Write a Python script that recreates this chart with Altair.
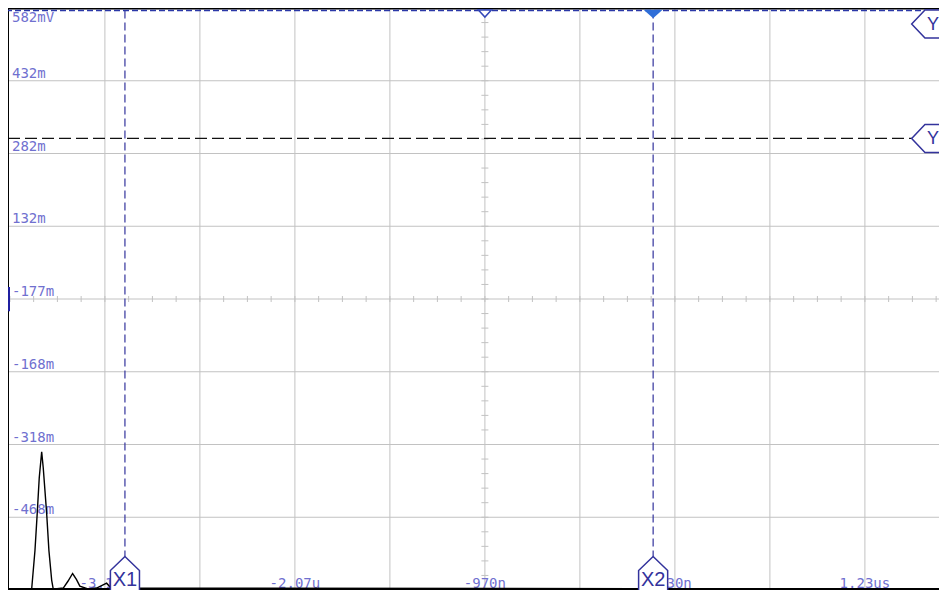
import altair as alt
import pandas as pd

# ---------------- data (time in ns, voltage in mV) ----------------
wave_t = [-3731, -3594, -3575, -3562, -3550, -3536, -3527, -3507, -3494, -3478, -3469,
          -3459, -3411, -3384, -3357, -3335, -3315, -3268, -3218, -3160, -3135, 1659]
wave_v = [-616, -616, -537, -461, -386, -333, -366, -461, -537, -598, -616,
          -616, -614, -600, -584, -596, -610, -616, -614, -604, -614, -616]

grid_t = [-3170, -2620, -2070, -1520, -970, -420, 130, 680, 1230]
grid_v = [432, 282, 132, -18, -168, -318, -468]

ylab_v = [432, 282, 132, -18, -168, -318, -468]
ylab_text = ["432m", "282m", "132m", "-177m", "-168m", "-318m", "-468m"]
top_lab_v = [582]
top_lab_text = ["582mV"]

xlab_t = [-3170, -2070, -970, 130, 1230]
xlab_text = ["-3.17u", "-2.07u", "-970n", "130n", "1.23us"]

xcur_t = [-3054, 4]
xcur_name = ["X1", "X2"]
ycur_top_v = 577
ycur2_v = 313
trig_t = -970

T_MIN, T_MAX = -3731, 1659
V_MIN, V_MAX = -618, 582
DIV_T, DIV_V = 550, 150
CENTER_T, CENTER_V = -970, -18

W, H = 931, 582
PX_T = (T_MAX - T_MIN) / W   # ns per pixel
PX_V = (V_MAX - V_MIN) / H   # mV per pixel

LAB_COLOR = "#7070cf"
CUR_COLOR = "#33339c"
GRID_COLOR = "#c2c2c2"
FONT = "DejaVu Sans Mono"

xs = alt.Scale(domain=[T_MIN, T_MAX], nice=False, zero=False)
ys = alt.Scale(domain=[V_MIN, V_MAX], nice=False, zero=False)


def X(f):
    return alt.X(f, type="quantitative", scale=xs, axis=None)


def Y(f):
    return alt.Y(f, type="quantitative", scale=ys, axis=None)


# ---------------- grid ----------------
gx = alt.Chart(pd.DataFrame({"t": grid_t})).mark_rule(color=GRID_COLOR, strokeWidth=1).encode(x=X("t"))
gy = alt.Chart(pd.DataFrame({"v": grid_v})).mark_rule(color=GRID_COLOR, strokeWidth=1).encode(y=Y("v"))

# minor ticks on centre axes
qt = DIV_T / 4
ht = [T_MIN + (CENTER_T - T_MIN) % qt + k * qt for k in range(int((T_MAX - T_MIN) / qt) + 1)]
ht = [t for t in ht if t <= T_MAX]
tick_h = pd.DataFrame({"t": ht, "v1": CENTER_V - 3 * PX_V, "v2": CENTER_V + 3 * PX_V})
th = alt.Chart(tick_h).mark_rule(color=GRID_COLOR, strokeWidth=1).encode(x=X("t"), y=Y("v1"), y2=alt.Y2("v2"))

fv = DIV_V / 5
vt = [V_MIN + k * fv for k in range(int((V_MAX - V_MIN) / fv) + 1)]
tick_v = pd.DataFrame({"v": vt, "t1": CENTER_T - 3.5 * PX_T, "t2": CENTER_T + 3.5 * PX_T})
tv = alt.Chart(tick_v).mark_rule(color=GRID_COLOR, strokeWidth=1).encode(y=Y("v"), x=X("t1"), x2=alt.X2("t2"))

# ---------------- labels ----------------
ylab_df = pd.DataFrame({"v": ylab_v, "label": ylab_text, "t": T_MIN})
yl = alt.Chart(ylab_df).mark_text(align="left", baseline="alphabetic", dx=4, dy=-3,
                                   font=FONT, fontSize=14, color=LAB_COLOR).encode(
    x=X("t"), y=Y("v"), text="label:N")
top_df = pd.DataFrame({"v": top_lab_v, "label": top_lab_text, "t": T_MIN})
tl = alt.Chart(top_df).mark_text(align="left", baseline="top", dx=4, dy=3,
                                 font=FONT, fontSize=14, color=LAB_COLOR).encode(
    x=X("t"), y=Y("v"), text="label:N")
xlab_df = pd.DataFrame({"t": xlab_t, "label": xlab_text, "v": V_MIN})
xl = alt.Chart(xlab_df).mark_text(align="center", baseline="alphabetic", dy=-2,
                                  font=FONT, fontSize=14, color=LAB_COLOR).encode(
    x=X("t"), y=Y("v"), text="label:N")

# ---------------- cursors ----------------
xm_v = V_MIN + 16 * PX_V          # centre of the X cursor flags
xapex_v = xm_v + 17.5 * PX_V
xcur_df = pd.DataFrame({"t": xcur_t, "name": xcur_name, "v1": ycur_top_v, "v2": xapex_v, "vm": xm_v})
xc = alt.Chart(xcur_df).mark_rule(color=CUR_COLOR, strokeWidth=1.2, strokeDash=[8, 4]).encode(
    x=X("t"), y=Y("v1"), y2=alt.Y2("v2"))

yflag_t = T_MAX - 2 * PX_T
y2_df = pd.DataFrame({"v": [ycur2_v], "t1": [T_MIN], "t2": [yflag_t - 25 * PX_T]})
yc2 = alt.Chart(y2_df).mark_rule(color="#111111", strokeWidth=1.2, strokeDash=[12, 5]).encode(
    y=Y("v"), x=X("t1"), x2=alt.X2("t2"))

y1_df = pd.DataFrame({"v": [ycur_top_v]})
yc1 = alt.Chart(y1_df).mark_rule(color="#2b38a8", strokeWidth=1.5, strokeDash=[6, 3]).encode(y=Y("v"))

# frame
frame_top = alt.Chart(pd.DataFrame({"v": [V_MAX]})).mark_rule(color="#000000", strokeWidth=3).encode(y=Y("v"))
frame_bot = alt.Chart(pd.DataFrame({"v": [V_MIN]})).mark_rule(color="#000000", strokeWidth=4).encode(y=Y("v"))
frame_left = alt.Chart(pd.DataFrame({"t": [T_MIN]})).mark_rule(color="#000000", strokeWidth=2).encode(x=X("t"))

gnd = alt.Chart(pd.DataFrame({"t": [T_MIN], "v1": [7], "v2": [-43]})).mark_rule(
    color="#1f1fa0", strokeWidth=4).encode(x=X("t"), y=Y("v1"), y2=alt.Y2("v2"))

# ---------------- waveform ----------------
wave = alt.Chart(pd.DataFrame({"t": wave_t, "v": wave_v})).mark_line(
    color="#000000", strokeWidth=1.4).encode(x=X("t"), y=Y("v"), order="t:Q")

# ---------------- markers ----------------
xm = alt.Chart(xcur_df).mark_point(
    shape="M0,-1L0.83,-0.2L0.83,1.2L-0.83,1.2L-0.83,-0.2Z", size=1225,
    filled=False, fill="#ffffff", fillOpacity=1, stroke=CUR_COLOR, strokeWidth=1.5, opacity=1).encode(
    x=X("t"), y=Y("vm"))
xmt = alt.Chart(xcur_df).mark_text(font="Liberation Sans", fontSize=20, color=CUR_COLOR,
                                   baseline="middle", dy=6).encode(x=X("t"), y=Y("vm"), text="name:N")

ym_df = pd.DataFrame({"t": [yflag_t, yflag_t], "v": [549, ycur2_v],
                      "tt": [yflag_t - 4 * PX_T] * 2, "name": ["Y", "Y"]})
ym = alt.Chart(ym_df).mark_point(
    shape="M-1.81,0L-0.86,-1L2,-1L2,1L-0.86,1Z", size=784,
    filled=False, fill="#ffffff", fillOpacity=1, stroke=CUR_COLOR, strokeWidth=1.5, opacity=1).encode(
    x=X("t"), y=Y("v"))
ymt = alt.Chart(ym_df).mark_text(font="Liberation Sans", fontSize=18, color=CUR_COLOR,
                                 baseline="middle", align="center", dy=1).encode(x=X("tt"), y=Y("v"), text="name:N")

trig = alt.Chart(pd.DataFrame({"t": [trig_t], "v": [V_MAX - 5.5 * PX_V]})).mark_point(
    shape="M-1,-0.55L1,-0.55L0,0.55Z", size=169, filled=False, fill="#ffffff", fillOpacity=1,
    stroke="#3347b8", strokeWidth=1.5, opacity=1).encode(x=X("t"), y=Y("v"))
x2tri = alt.Chart(pd.DataFrame({"t": [xcur_t[1]], "v": [V_MAX - 6 * PX_V]})).mark_point(
    shape="M-1,-0.45L1,-0.45L0,0.45Z", size=361, filled=True, color="#2f6ed8", opacity=1).encode(
    x=X("t"), y=Y("v"))

chart = alt.layer(
    gx, gy, th, tv, yl, tl, xl, xc, yc2, frame_top, frame_bot, frame_left, yc1, gnd,
    wave, xm, xmt, ym, ymt, trig, x2tri
).properties(
    width=W, height=H, padding=0, background="#ffffff",
    autosize=alt.AutoSizeParams(type="none")
).configure_view(stroke=None)

chart.save("out.html", embed_options={"renderer": "svg", "actions": False})
